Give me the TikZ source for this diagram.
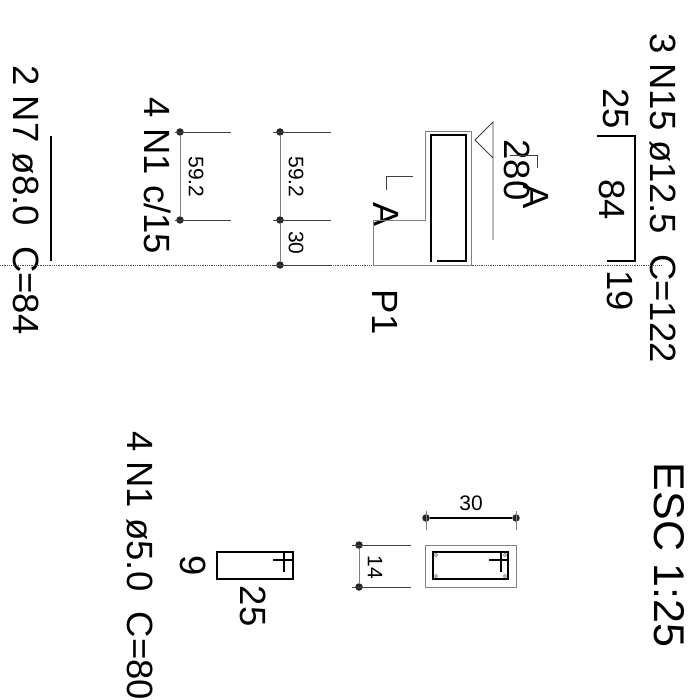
\documentclass[tikz,border=0pt]{standalone}
\usepackage{fontspec}
\setmainfont{Liberation Sans}
\usepackage{tikz}
\usetikzlibrary{calc}

\begin{document}
\begin{tikzpicture}[
      x=1pt,y=-1pt,
      label/.style={rotate=-90,inner sep=0pt,font=\fontsize{36.5}{36.5}\selectfont},
      title/.style={label,font=\fontsize{43}{43}\selectfont},
      dimtext/.style={rotate=-90,inner sep=0pt,font=\fontsize{21}{21}\selectfont},
      outline/.style={draw=black!50,line width=1pt},
      thinline/.style={draw=black!75,line width=0.9pt},
      rebar/.style={draw=black,line width=2pt},
      dimdot/.style={circle,fill=black!85,inner sep=0pt,minimum size=7.5pt},
      axisline/.style={draw=black!70,line width=0.8pt,densely dotted}
      ]
      \useasboundingbox (0,0) rectangle (699,700);

      % texts
      \node[label] (t1) at (663,198) {3 N15 ø12.5~~C=122};
      \node[label] (t2) at (26,200) {2 N7 ø8.0~~C=84};
      \node[label] (t3) at (158,176) {4 N1 c/15};
      \node[label,anchor=west] (t4) at (140,431) {4 N1 ø5.0~~C=80};
      \node[title] (t5) at (669,555) {ESC 1:25};
      \node[label] (t6) at (385,312) {P1};

      % bar lengths
      \foreach \n/\x/\y/\txt in {%
        l1/616/109/25,
        l2/612/200/84,
        l3/620/291/19,
        l4/517/170/280,
        l5/193/566/9,
        l6/253/606/25,
        a1/386/215/A,
        a2/536/197/A}
        \node[label] (\n) at (\x,\y) {\txt};

      % dimension texts
      \foreach \n/\x/\y/\txt in {%
        d1/196/177/59.2,
        d2/296/177/59.2,
        d3/296/243/30,
        d4/375/567/14}
        \node[dimtext] (\n) at (\x,\y) {\txt};
      \node[dimtext,rotate=90] (d5) at (471,503) {30};

      % axis
      \draw[axisline] (0,265) -- (662,265);

      % elevation
      \draw[outline] (373,265) -- (373,221) -- (425,221) -- (425,132) -- (471,132) -- (471,265) -- cycle;
      \draw[rebar] (431,262) -- (431,135) -- (466,135) -- (466,261) -- (437,261);
      \draw[thinline] (493,240) -- (493,122) -- (475,140) -- (493,158);
      \draw[thinline] (510,155) -- (537,155) -- (537,168);
      \draw[thinline] (413,176) -- (386,176) -- (386,190);

      % bars
      \draw[rebar] (597,136) -- (635,136) -- (635,261) -- (607,261);
      \draw[rebar] (51,136) -- (51,261);

      % dimensions
      \foreach \n/\x/\y in {p1/180/132,p2/180/220,p3/280/132,p4/280/220,p5/280/265,p6/359/545,p7/359/587,p8/426/518,p9/516/518}
        \node[dimdot] (\n) at (\x,\y) {};
      \foreach \i/\j in {p1/p2,p3/p4,p4/p5,p6/p7}
        \draw[outline] (\i) -- (\j);
      \draw[rebar,line width=1.1pt] (p8) -- (p9);
      \foreach \i/\a/\b in {p1/175/231,p2/175/231,p3/273/331,p4/273/331,p5/273/331,p6/352/411,p7/352/411}
        \draw[thinline] (\a,0 |- \i) -- (\b,0 |- \i);
      \foreach \i in {p8,p9}
        \draw[outline] ($(\i)+(0,-7)$) -- ($(\i)+(0,12)$);

      % section
      \draw[outline] (425,545) rectangle (516,587);
      \draw[rebar,line width=2.4pt] (433,552) rectangle (508,579);
      \draw[rebar,line width=1.5pt] (501,552) -- (501,572) (489,560) -- (508,560);
      \foreach \x/\y in {436/555,505/555,436/576,505/576}
        \draw[draw=black!50,line width=0.7pt] (\x,\y) circle (1.7);

      % stirrup
      \draw[rebar] (217,552) rectangle (293,579);
      \draw[rebar,line width=1.5pt] (284,552) -- (284,572) (273,560) -- (293,560);
    \end{tikzpicture}
\end{document}
